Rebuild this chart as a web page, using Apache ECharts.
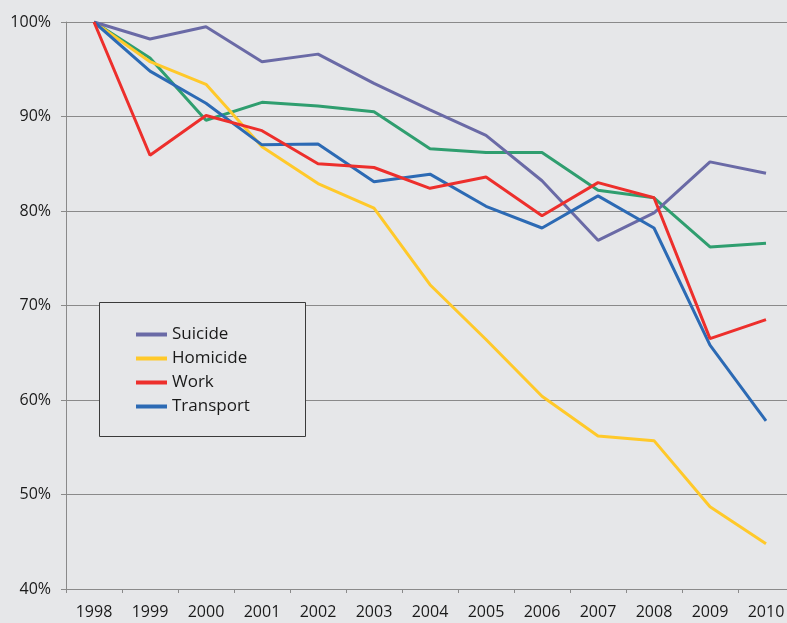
<!DOCTYPE html>
<html>
<head>
<meta charset="utf-8">
<script src="https://cdn.jsdelivr.net/npm/echarts@6/dist/echarts.min.js"></script>
<style>
	html,body{margin:0;padding:0;background:#e6e7e9;}
	#chart{width:787px;height:623px;}
</style>
</head>
<body>
<div id="chart"></div>
<script>
var years=['1998','1999','2000','2001','2002','2003','2004','2005','2006','2007','2008','2009','2010'];
var suicide=[100,98.2,99.5,95.8,96.6,93.5,90.7,88.0,83.2,76.9,79.8,85.2,84.0];
var homicide=[100,95.8,93.4,86.8,82.9,80.3,72.2,66.4,60.4,56.2,55.7,48.7,44.8];
var work=[100,85.9,90.1,88.5,85.0,84.6,82.4,83.6,79.5,83.0,81.4,66.5,68.5];
var transport=[100,94.8,91.4,87.0,87.1,83.1,83.9,80.5,78.2,81.6,78.2,65.8,57.8];
var total=[100,96.2,89.6,91.5,91.1,90.5,86.6,86.2,86.2,82.2,81.4,76.2,76.6];
var yTicks=[40,50,60,70,80,90,100];

var chart=echarts.init(document.getElementById('chart'));

function line(name,data,color){
	return {
		name:name,
		type:'line',
		data:data,
		symbol:'none',
		lineStyle:{color:color,width:3},
		itemStyle:{color:color}
	};
}

var option={
	backgroundColor:'#e6e7e9',
	animation:false,
	// the plot runs past the right edge of the picture, so 2010 gets cut
	grid:{left:66,width:728,top:22,bottom:34,outerBoundsMode:'none',containLabel:false},
	xAxis:{
		type:'category',
		data:years,
		boundaryGap:true,
		axisLine:{lineStyle:{color:'#8a8a8a',width:1}},
		axisTick:{show:true,length:4,lineStyle:{color:'#8a8a8a'}},
		axisLabel:{margin:15,fontSize:16,color:'#1a1a1a',fontFamily:'Open Sans',hideOverlap:false}
	},
	yAxis:{
		type:'value',
		min:yTicks[0],
		max:yTicks[yTicks.length-1],
		interval:10,
		axisLine:{show:true,lineStyle:{color:'#8a8a8a',width:1}},
		axisTick:{show:true,length:5,lineStyle:{color:'#8a8a8a'}},
		axisLabel:{margin:15,fontSize:16,color:'#1a1a1a',fontFamily:'Open Sans',formatter:'{value}%'},
		splitLine:{show:true,lineStyle:{color:'#8a8a8a',width:1}}
	},
	legend:{
		orient:'vertical',
		left:136,
		top:326,
		padding:0,
		icon:'rect',
		itemWidth:31,
		itemHeight:4,
		itemGap:7,
		z:5,
		textStyle:{fontSize:17,lineHeight:16,color:'#1a1a1a',fontFamily:'Open Sans'},
		data:['Suicide','Homicide','Work','Transport']
	},
	graphic:[{
		type:'rect',
		z:4,
		shape:{x:99.5,y:302.5,width:206,height:134},
		style:{fill:'#e6e7e9',stroke:'#3a3a3a',lineWidth:1}
	}],
	series:[
		line('Total',total,'#2f9e6f'),
		line('Homicide',homicide,'#ffc92a'),
		line('Suicide',suicide,'#6a6aa6'),
		line('Transport',transport,'#2c6ab4'),
		line('Work',work,'#ed2f2c')
	]
};

chart.setOption(option);
window.addEventListener('resize',function(){
	chart.resize();
});
</script>
</body>
</html>
